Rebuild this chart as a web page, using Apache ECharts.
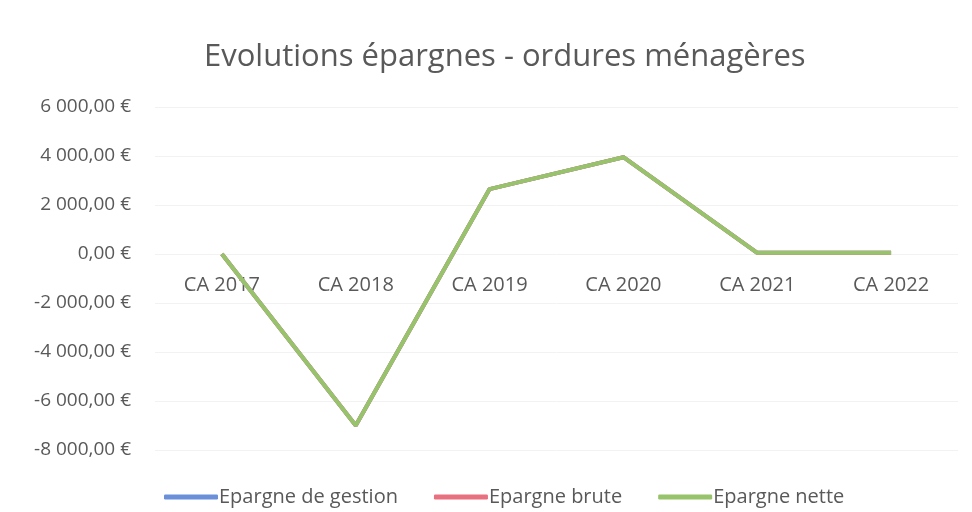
<!DOCTYPE html>
<html>
<head>
<meta charset="utf-8">
<script src="https://cdn.jsdelivr.net/npm/echarts@6/dist/echarts.min.js"></script>
<style>
  html, body { margin: 0; padding: 0; background: #fff; }
  #chart { width: 972px; height: 512px; }
</style>
</head>
<body>
<div id="chart"></div>
<script>
const categories = ['CA 2017', 'CA 2018', 'CA 2019', 'CA 2020', 'CA 2021', 'CA 2022']
const epargneGestion = [0, -7000, 2650, 3950, 50, 50]
const epargneBrute = [0, -7000, 2650, 3950, 50, 50]
const epargneNette = [0, -7000, 2650, 3950, 50, 50]

function euro(v) {
  let neg = v < 0
  let s = Math.abs(v).toFixed(2).split('.')
  let int = s[0].replace(/\B(?=(\d{3})+(?!\d))/g, ' ')
  return (neg ? '-' : '') + int + ',' + s[1] + ' €'
}

const chart = echarts.init(document.getElementById('chart'))
const font = "'Open Sans', sans-serif"

// plot area, y range
const gridTop = 107
const gridBottom = 62
const yMin = -8000
const yMax = 6000
const plotH = 512 - gridTop - gridBottom
// category labels sit under the zero line (ECharts 6 keeps labels at the bottom with onZero)
const zeroOffset = -plotH * (0 - yMin) / (yMax - yMin)

function line(name, data, color) {
  return {
    name: name,
    type: 'line',
    data: data,
    symbol: 'none',
    lineStyle: { color: color, width: 4 },
    itemStyle: { color: color }
  }
}

let option = {
  animation: false,
  title: {
    text: 'Evolutions épargnes - ordures ménagères',
    left: 199,
    top: 37,
    textStyle: { fontFamily: font, fontSize: 31, fontWeight: 'normal', color: '#595959' }
  },
  legend: {
    bottom: 0,
    left: 159,
    itemWidth: 54,
    itemHeight: 5,
    itemGap: 36,
    icon: 'roundRect',
    textStyle: { fontFamily: font, fontSize: 20, color: '#595959', padding: [0, 0, 0, -4] }
  },
  grid: { left: 155, right: 14, top: gridTop, bottom: gridBottom },
  xAxis: {
    type: 'category',
    data: categories,
    offset: zeroOffset,
    axisLine: { show: false, onZero: false },
    axisTick: { show: false },
    axisLabel: { fontFamily: font, fontSize: 20, color: '#595959', margin: 21 }
  },
  yAxis: {
    type: 'value',
    min: yMin,
    max: yMax,
    interval: 2000,
    axisLine: { show: false },
    axisTick: { show: false },
    splitLine: { lineStyle: { color: '#f2f2f2', width: 1 } },
    axisLabel: { fontFamily: font, fontSize: 19, color: '#595959', margin: 24, formatter: euro }
  },
  series: [
    line('Epargne de gestion', epargneGestion, '#6b8fd9'),
    line('Epargne brute', epargneBrute, '#e8707f'),
    line('Epargne nette', epargneNette, '#97c46a')
  ]
}
chart.setOption(option)
</script>
</body>
</html>
